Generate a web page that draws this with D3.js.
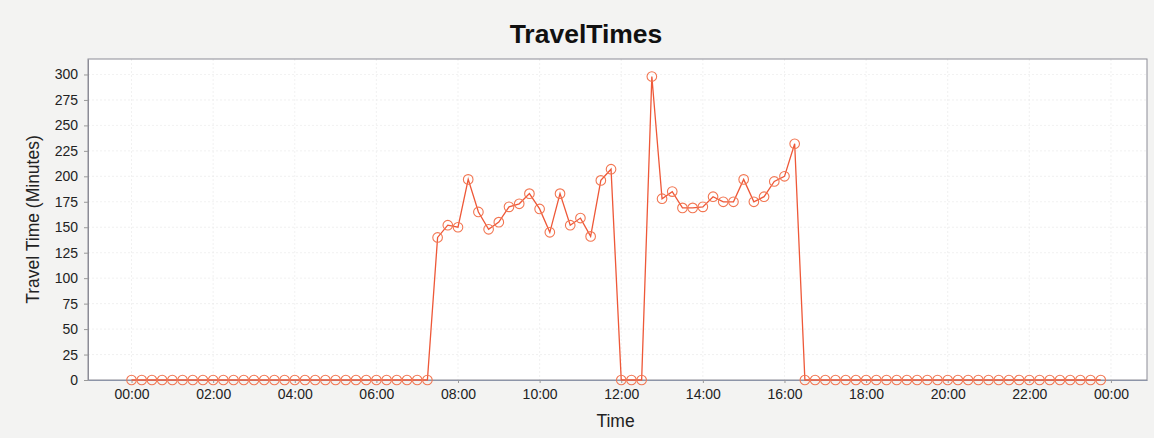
<!DOCTYPE html>
<html>
<head>
<meta charset="utf-8">
<script src="https://cdn.jsdelivr.net/npm/d3@7"></script>
<style>
  html, body { margin: 0; padding: 0; background: #f3f3f2; }
  svg { display: block; font-family: "Liberation Sans", Arial, sans-serif; }
</style>
</head>
<body>
<svg id="chart" width="1154" height="438"></svg>
<script>
// ---- data ----
const title = "TravelTimes";
const xLabel = "Time";
const yLabel = "Travel Time (Minutes)";
const startTime = "00:00";      // first sample
const stepMinutes = 15;         // sampling interval
// travel time (minutes) for each 15-minute sample, 00:00 .. 23:45
const travelTimes = [
  0,0,0,0,0,0,0,0,0,0,0,0,0,0,0,0,0,0,0,0,0,0,0,0,0,0,0,0,0,0,       // 00:00-07:15
  140,152,150,197,165,148,155,170,173,183,168,145,183,152,159,141,196,207, // 07:30-11:45
  0,0,0,                                                              // 12:00-12:30
  298,178,185,169,169,170,180,175,175,197,175,180,195,200,232,        // 12:45-16:15
  0,0,0,0,0,0,0,0,0,0,0,0,0,0,0,0,0,0,0,0,0,0,0,0,0,0,0,0,0,0        // 16:30-23:45
];
const yTicks = [0,25,50,75,100,125,150,175,200,225,250,275,300];
const xTickHours = [0,2,4,6,8,10,12,14,16,18,20,22,24];

// ---- layout ----
const svg = d3.select("#chart");
const W = 1154, H = 438;
const plot = { left: 88, right: 1147, top: 59, bottom: 380 };

const base = new Date(2000, 0, 1, +startTime.slice(0,2), +startTime.slice(3,5));
const pts = travelTimes.map((v, i) => ({ t: d3.timeMinute.offset(base, i * stepMinutes), v }));

const x = d3.scaleTime()
  .domain([d3.timeMinute.offset(base, -64), d3.timeMinute.offset(base, 1493)])
  .range([plot.left, plot.right]);
const y = d3.scaleLinear()
  .domain([0, 315.2])
  .range([plot.bottom, plot.top]);

// outer background
svg.append("rect").attr("width", W).attr("height", H).attr("fill", "#f3f3f2");
// plot background
svg.append("rect")
  .attr("x", plot.left).attr("y", plot.top)
  .attr("width", plot.right - plot.left).attr("height", plot.bottom - plot.top)
  .attr("fill", "#ffffff");

const xTickDates = xTickHours.map(h => d3.timeHour.offset(base, h));

// gridlines
svg.append("g").selectAll("line").data(yTicks.filter(d => d > 0)).join("line")
  .attr("x1", plot.left).attr("x2", plot.right)
  .attr("y1", d => y(d)).attr("y2", d => y(d))
  .attr("stroke", "#e8e8e8").attr("stroke-width", 0.6).attr("stroke-dasharray", "2,2");
svg.append("g").selectAll("line").data(xTickDates).join("line")
  .attr("x1", d => x(d)).attr("x2", d => x(d))
  .attr("y1", plot.top).attr("y2", plot.bottom)
  .attr("stroke", "#e8e8e8").attr("stroke-width", 0.6).attr("stroke-dasharray", "2,2");

// plot border
svg.append("rect")
  .attr("x", plot.left).attr("y", plot.top)
  .attr("width", plot.right - plot.left).attr("height", plot.bottom - plot.top)
  .attr("fill", "none").attr("stroke", "#8c8c96").attr("stroke-width", 1);

// axes
const xAxis = d3.axisBottom(x).tickValues(xTickDates).tickFormat(d3.timeFormat("%H:%M"))
  .tickSizeInner(3).tickSizeOuter(0).tickPadding(6);
const gx = svg.append("g").attr("transform", `translate(0,${plot.bottom})`).call(xAxis);
gx.select(".domain").attr("stroke", "#8c94a8");
gx.selectAll(".tick line").attr("stroke", "#999");
gx.selectAll("text").attr("font-size", 14).attr("fill", "#222")
  .attr("font-family", "Liberation Sans, Arial, sans-serif");

const yAxis = d3.axisLeft(y).tickValues(yTicks).tickSizeInner(4).tickSizeOuter(0).tickPadding(6);
const gy = svg.append("g").attr("transform", `translate(${plot.left},0)`).call(yAxis);
gy.select(".domain").attr("stroke", "#8c8c96");
gy.selectAll(".tick line").attr("stroke", "#999");
gy.selectAll("text").attr("font-size", 14).attr("fill", "#222")
  .attr("font-family", "Liberation Sans, Arial, sans-serif");

// series line
const line = d3.line().x(d => x(d.t)).y(d => y(d.v));
svg.append("path").datum(pts)
  .attr("d", line).attr("fill", "none")
  .attr("stroke", "#ee5838").attr("stroke-width", 1.3);

// markers
svg.append("g").selectAll("circle").data(pts).join("circle")
  .attr("cx", d => x(d.t)).attr("cy", d => y(d.v)).attr("r", 4.8)
  .attr("fill", "none").attr("stroke", "#f27652").attr("stroke-width", 1.1);

// title
svg.append("text").attr("x", 586).attr("y", 43).attr("text-anchor", "middle")
  .attr("font-size", 26.5).attr("font-weight", "bold").attr("fill", "#111")
  .text(title);

// axis labels
svg.append("text").attr("x", (plot.left + plot.right) / 2 - 2).attr("y", 427)
  .attr("text-anchor", "middle").attr("font-size", 17.5).attr("fill", "#222")
  .text(xLabel);
svg.append("text")
  .attr("transform", `translate(39,${(plot.top + plot.bottom) / 2}) rotate(-90)`)
  .attr("text-anchor", "middle").attr("font-size", 17.5).attr("fill", "#222")
  .text(yLabel);
</script>
</body>
</html>
